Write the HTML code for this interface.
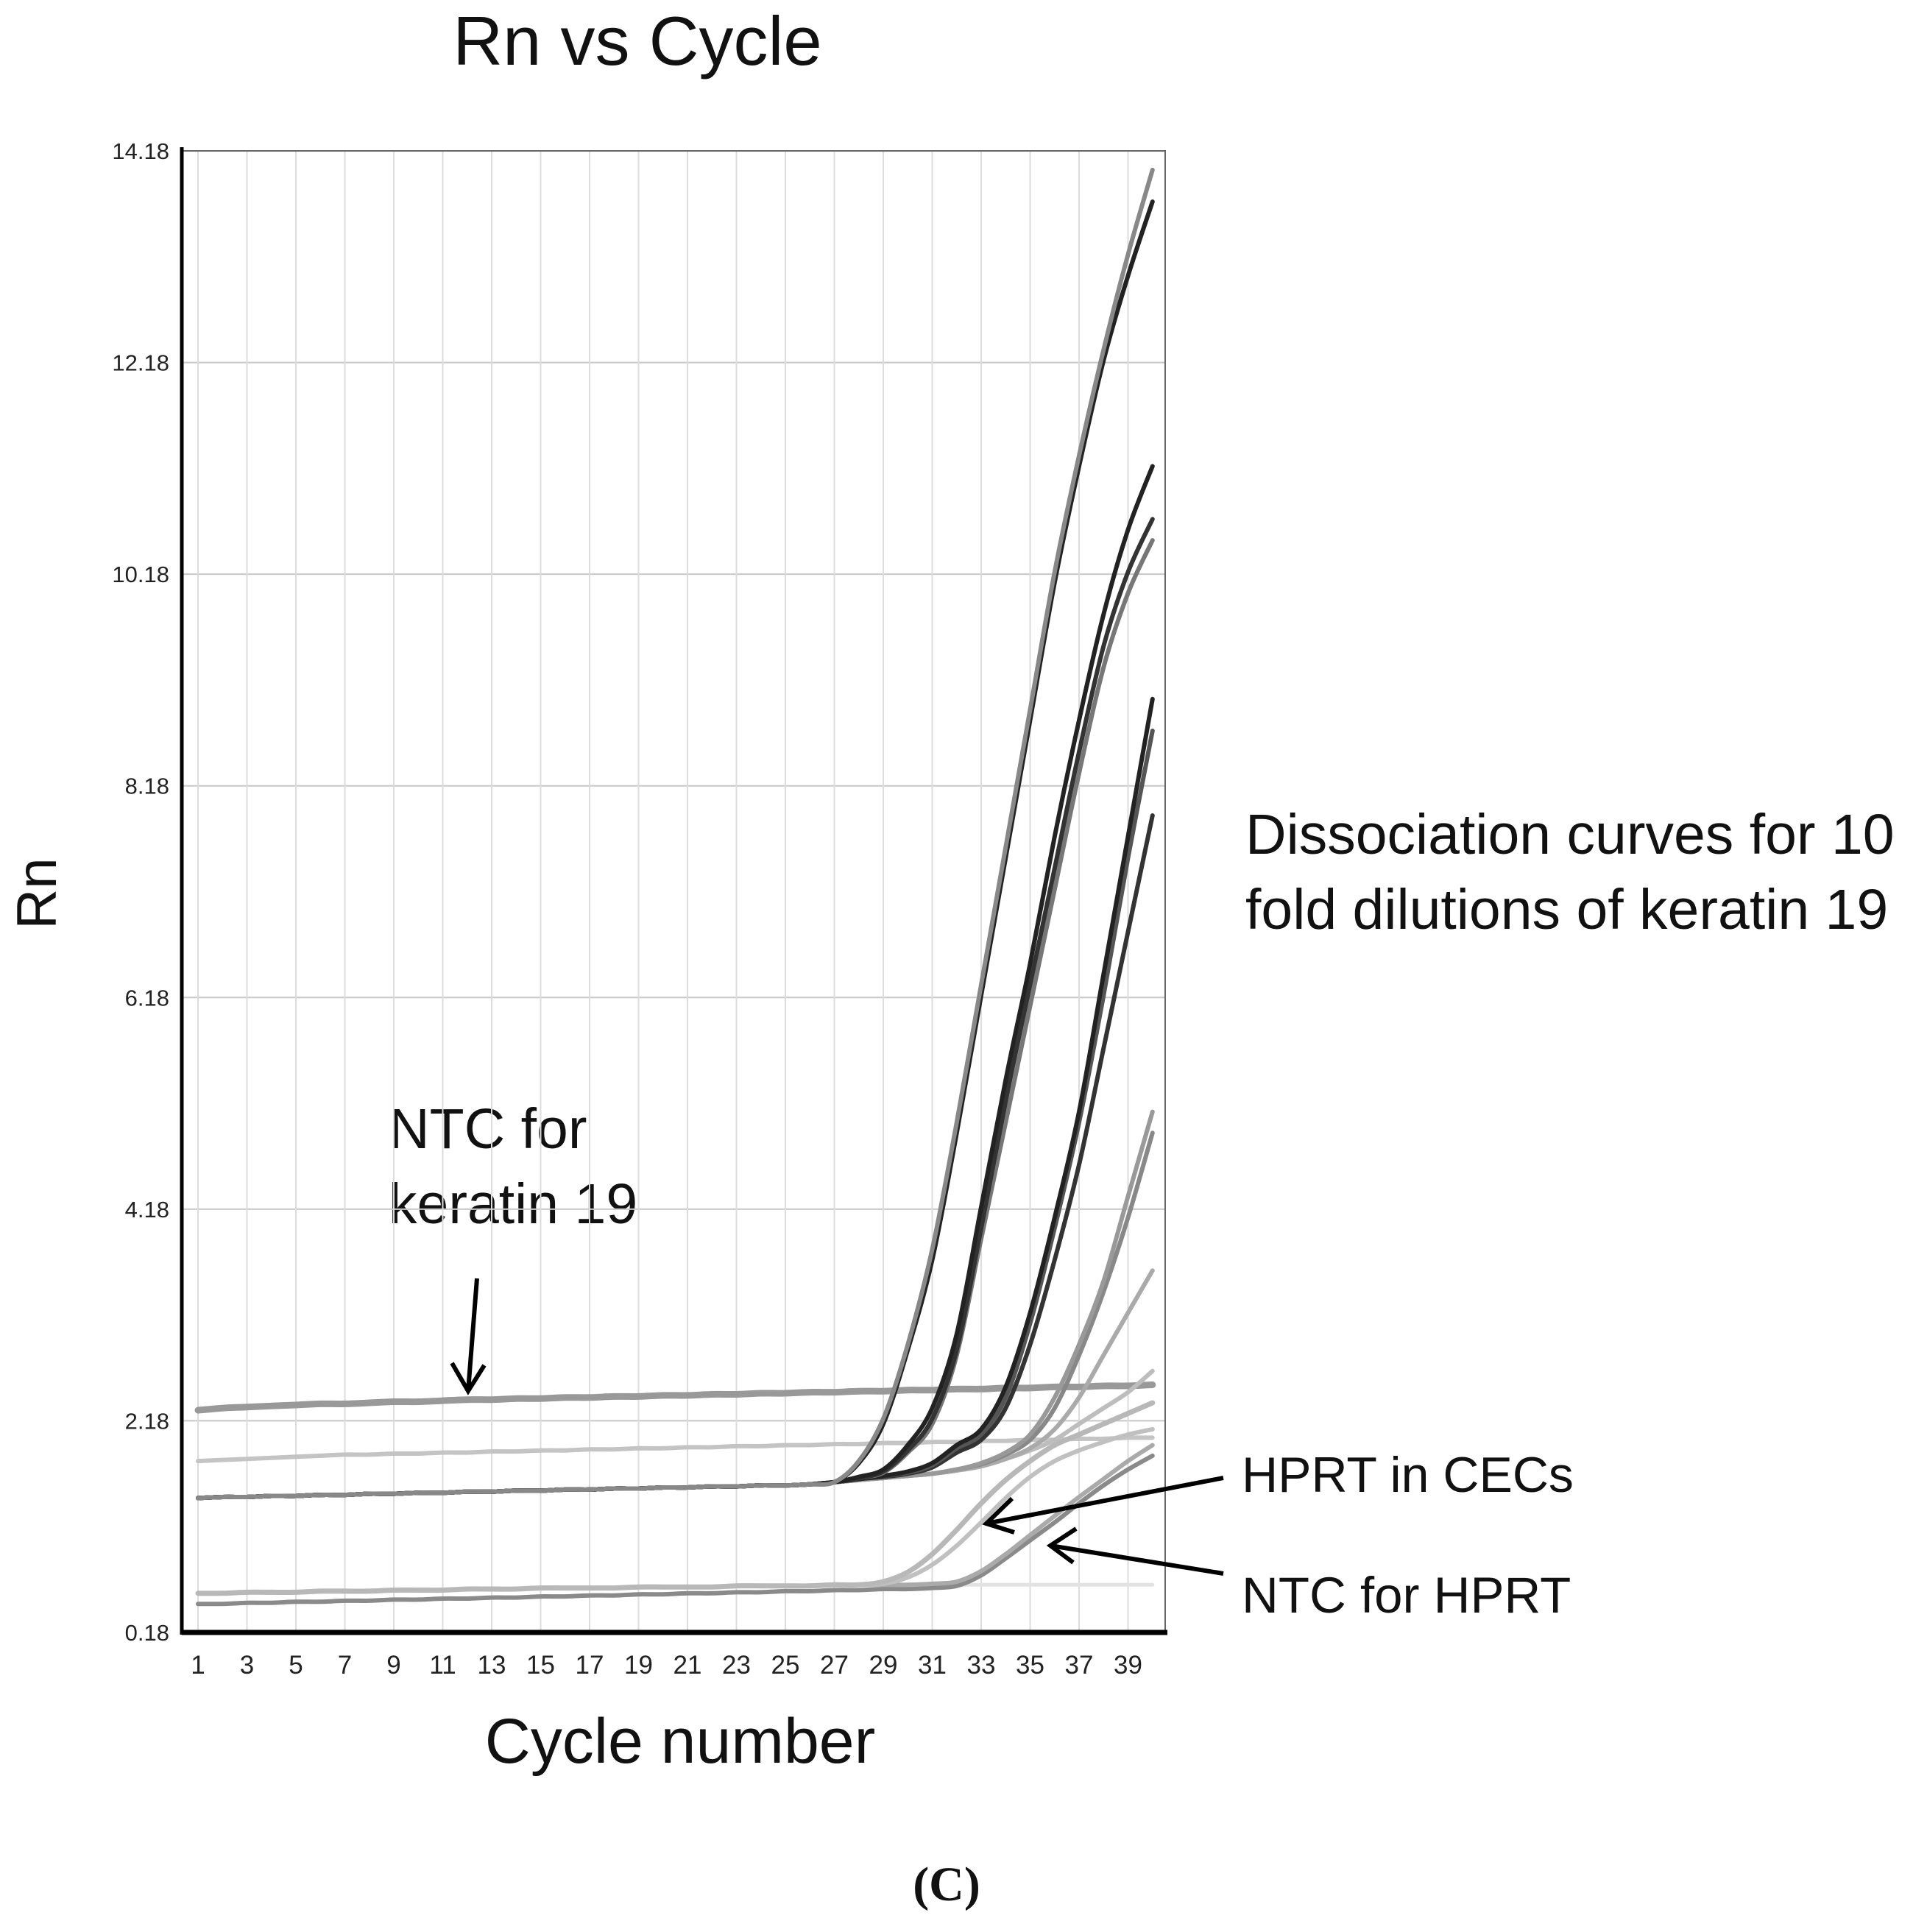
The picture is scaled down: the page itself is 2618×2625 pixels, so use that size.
<!DOCTYPE html>
<html><head><meta charset="utf-8">
<style>
html,body{margin:0;padding:0;background:#fff;}
svg{display:block;}
text{font-family:"Liberation Sans",sans-serif;}
</style></head>
<body>
<svg id="chart" width="2618" height="2625" viewBox="0 0 2618 2625" xmlns="http://www.w3.org/2000/svg">
<text x="866" y="88" font-size="94" text-anchor="middle" fill="#111">Rn vs Cycle</text>
<text x="0" y="0" font-size="76" text-anchor="middle" fill="#111" transform="translate(76,1214) rotate(-90)">Rn</text>
<text x="924" y="2395" font-size="86" text-anchor="middle" fill="#111">Cycle number</text>
<text x="1692" y="1160" font-size="77" fill="#111">Dissociation curves for 10</text>
<text x="1692" y="1262" font-size="77" fill="#111">fold dilutions of keratin 19</text>
<text x="528" y="1560" font-size="77" fill="#111">NTC for</text>
<text x="528" y="1662" font-size="77" fill="#111">keratin 19</text>
<text x="1687" y="2027" font-size="68" fill="#111">HPRT in CECs</text>
<text x="1687" y="2191" font-size="69" fill="#111">NTC for HPRT</text>
<text x="1286" y="2582" font-size="66" font-weight="bold" text-anchor="middle" fill="#111" style="font-family:'Liberation Serif',serif">(C)</text>
<g id="plot"></g>
<g id="arrows" fill="none" stroke="#000" stroke-width="6">
<path d="M648 1737 L636 1890 M614 1852 L636 1890 L658 1855"/>
<path d="M1662 2008 L1340 2070 M1375 2036 L1340 2070 L1378 2082"/>
<path d="M1662 2138 L1427 2100 M1462 2077 L1427 2100 L1458 2123"/>
</g>
</svg>
<script>
const cycles = [];
for (let c = 1; c <= 40; c++) cycles.push(c);
const yTicks = [0.18, 2.18, 4.18, 6.18, 8.18, 10.18, 12.18, 14.18];
const xTicks = [1,3,5,7,9,11,13,15,17,19,21,23,25,27,29,31,33,35,37,39];
const base = [1.45,1.46,1.46,1.47,1.47,1.48,1.48,1.49,1.49,1.50,1.50,1.51,1.51,1.52,1.52,1.53,1.53,1.54,1.54,1.55,1.55,1.56,1.56,1.57,1.57,1.58,1.60];
const seriesA1 = base.concat([1.8,2.2,2.9,3.8,5.0,6.3,7.6,8.9,10.2,11.3,12.3,13.2,14.0]);
const seriesA2 = base.concat([1.78,2.15,2.85,3.7,4.9,6.2,7.5,8.8,10.1,11.2,12.2,13.0,13.7]);
const seriesB1 = base.concat([1.65,1.72,1.95,2.3,3.0,4.2,5.4,6.5,7.7,8.8,9.8,10.6,11.2]);
const seriesB2 = base.concat([1.64,1.70,1.90,2.2,2.85,4.0,5.2,6.3,7.4,8.5,9.5,10.2,10.7]);
const seriesB3 = base.concat([1.64,1.69,1.88,2.15,2.8,3.9,5.0,6.1,7.2,8.3,9.3,10.0,10.5]);
const seriesC1 = base.concat([1.63,1.66,1.70,1.78,1.95,2.1,2.5,3.2,4.1,5.1,6.4,7.7,9.0]);
const seriesC2 = base.concat([1.63,1.66,1.69,1.76,1.92,2.05,2.4,3.1,4.0,5.0,6.2,7.5,8.7]);
const seriesC3 = base.concat([1.63,1.65,1.68,1.74,1.88,2.0,2.3,2.9,3.7,4.6,5.7,6.8,7.9]);
const seriesD1 = base.concat([1.62,1.64,1.66,1.68,1.72,1.78,1.88,2.05,2.4,2.9,3.5,4.3,5.1]);
const seriesD2 = base.concat([1.62,1.64,1.66,1.68,1.72,1.77,1.86,2.0,2.3,2.8,3.4,4.1,4.9]);
const seriesD3 = base.concat([1.62,1.64,1.66,1.68,1.71,1.75,1.82,1.92,2.1,2.4,2.8,3.2,3.6]);
const seriesNtcK = [2.28,2.30,2.31,2.32,2.33,2.34,2.34,2.35,2.36,2.36,2.37,2.38,2.38,2.39,2.39,2.40,2.40,2.41,2.41,2.42,2.42,2.43,2.43,2.44,2.44,2.45,2.45,2.46,2.46,2.47,2.47,2.48,2.48,2.49,2.49,2.50,2.50,2.51,2.51,2.52];
const seriesFlat = [1.80,1.81,1.82,1.83,1.84,1.85,1.86,1.86,1.87,1.87,1.88,1.88,1.89,1.89,1.90,1.90,1.91,1.91,1.92,1.92,1.93,1.93,1.94,1.94,1.95,1.95,1.96,1.96,1.97,1.97,1.98,1.98,1.99,1.99,2.00,2.00,2.01,2.01,2.02,2.02];
const seriesL1 = base.concat([1.62,1.64,1.66,1.68,1.72,1.76,1.82,1.9,2.0,2.15,2.3,2.45,2.65]);
const seriesHprt1 = [0.55,0.55,0.56,0.56,0.56,0.57,0.57,0.57,0.58,0.58,0.58,0.59,0.59,0.59,0.60,0.60,0.60,0.60,0.61,0.61,0.61,0.61,0.62,0.62,0.62,0.62,0.63,0.63,0.66,0.75,0.92,1.15,1.40,1.62,1.80,1.95,2.05,2.15,2.25,2.35];
const seriesHprt2 = [0.55,0.55,0.56,0.56,0.56,0.57,0.57,0.57,0.58,0.58,0.58,0.59,0.59,0.59,0.60,0.60,0.60,0.60,0.61,0.61,0.61,0.61,0.62,0.62,0.62,0.62,0.63,0.63,0.64,0.70,0.82,1.0,1.22,1.45,1.65,1.80,1.90,1.98,2.05,2.1];
const seriesNtcH1 = [0.45,0.45,0.46,0.46,0.47,0.47,0.48,0.48,0.49,0.49,0.50,0.50,0.51,0.51,0.52,0.52,0.53,0.53,0.54,0.54,0.55,0.55,0.56,0.56,0.57,0.57,0.58,0.58,0.59,0.59,0.60,0.62,0.72,0.88,1.05,1.22,1.40,1.57,1.72,1.85];
const seriesNtcH2 = [0.55,0.55,0.56,0.56,0.56,0.57,0.57,0.57,0.58,0.58,0.58,0.59,0.59,0.59,0.60,0.60,0.60,0.60,0.61,0.61,0.61,0.61,0.62,0.62,0.62,0.62,0.63,0.63,0.63,0.63,0.64,0.66,0.76,0.92,1.1,1.28,1.46,1.63,1.80,1.95];
const seriesFaint = [0.55,0.55,0.56,0.56,0.56,0.57,0.57,0.57,0.58,0.58,0.58,0.59,0.59,0.59,0.60,0.60,0.60,0.60,0.61,0.61,0.61,0.61,0.62,0.62,0.62,0.62,0.63,0.63,0.63,0.63,0.63,0.63,0.63,0.63,0.63,0.63,0.63,0.63,0.63,0.63];

const L = 247, R = 1583, T = 205, B = 2218;
const yMin = 0.18, yMax = 14.18;
function xS(c){ return 269 + (c - 1) * 33.25; }
function yS(v){ return B - (v - yMin) / (yMax - yMin) * (B - T); }

const NS = "http://www.w3.org/2000/svg";
const plot = document.getElementById('plot');
function mk(tag, attrs){ const e = document.createElementNS(NS, tag); for (const k in attrs) e.setAttribute(k, attrs[k]); plot.appendChild(e); return e; }

yTicks.forEach(v => {
  const g = mk('line', {x1:L, x2:R, y1:yS(v), y2:yS(v), stroke:'#c8c8c8', 'stroke-width':2});
  
  
  const t = mk('text', {x:230, y:yS(v)+11, 'font-size':31, 'text-anchor':'end', fill:'#222'});
  t.textContent = v.toFixed(2);
  
  
});
xTicks.forEach(c => {
  const g = mk('line', {x1:xS(c), x2:xS(c), y1:T, y2:B, stroke:'#dcdcdc', 'stroke-width':2});
  
  
  const t = mk('text', {x:xS(c), y:2274, 'font-size':35, 'text-anchor':'middle', fill:'#222'});
  t.textContent = c;
  
  
});
const frame = mk('rect', {x:L, y:T, width:R-L, height:B-T, fill:'none', stroke:'#666', 'stroke-width':2});


const ya = mk('line', {x1:L, x2:L, y1:T-5, y2:B+3, stroke:'#000', 'stroke-width':5});


const xa = mk('line', {x1:L, x2:R+3, y1:B, y2:B, stroke:'#000', 'stroke-width':7});



function pathFor(vals){
  const pts = vals.map((v,i)=>[xS(cycles[i]), yS(v)]);
  let d = 'M' + pts[0][0].toFixed(1) + ' ' + pts[0][1].toFixed(1);
  for (let i = 0; i < pts.length - 1; i++) {
    const p0 = pts[Math.max(0,i-1)], p1 = pts[i], p2 = pts[i+1], p3 = pts[Math.min(pts.length-1,i+2)];
    const c1x = p1[0] + (p2[0]-p0[0])/6, c1y = p1[1] + (p2[1]-p0[1])/6;
    const c2x = p2[0] - (p3[0]-p1[0])/6, c2y = p2[1] - (p3[1]-p1[1])/6;
    d += ' C' + c1x.toFixed(1)+' '+c1y.toFixed(1)+' '+c2x.toFixed(1)+' '+c2y.toFixed(1)+' '+p2[0].toFixed(1)+' '+p2[1].toFixed(1);
  }
  return d;
}
const series = [
  [seriesFaint,'#e2e2e2',5,'curve-faint-baseline'],
  [seriesNtcK,'#999',9,'curve-ntc-keratin'],
  [seriesFlat,'#c4c4c4',6,'curve-flat-light'],
  [seriesL1,'#bdbdbd',6,'curve-light-1'],
  [seriesNtcH1,'#8a8a8a',6,'curve-ntc-hprt-1'],
  [seriesNtcH2,'#aaa',6,'curve-ntc-hprt-2'],
  [seriesHprt2,'#c0c0c0',6,'curve-hprt-2'],
  [seriesHprt1,'#b8b8b8',7,'curve-hprt-1'],
  [seriesD3,'#aaa',6,'curve-d3'],
  [seriesD2,'#888',6,'curve-d2'],
  [seriesD1,'#999',6,'curve-d1'],
  [seriesC3,'#333',6,'curve-c3'],
  [seriesC2,'#555',6,'curve-c2'],
  [seriesC1,'#222',6,'curve-c1'],
  [seriesB3,'#777',6,'curve-b3'],
  [seriesB2,'#333',6,'curve-b2'],
  [seriesB1,'#222',6,'curve-b1'],
  [seriesA2,'#222',6,'curve-a2'],
  [seriesA1,'#888',6,'curve-a1']
];
series.forEach(s => {
  const p = mk('path', {d:pathFor(s[0]), fill:'none', stroke:s[1], 'stroke-width':s[2], 'stroke-linecap':'round', 'stroke-linejoin':'round'});
  
  
});
</script>
</body></html>
